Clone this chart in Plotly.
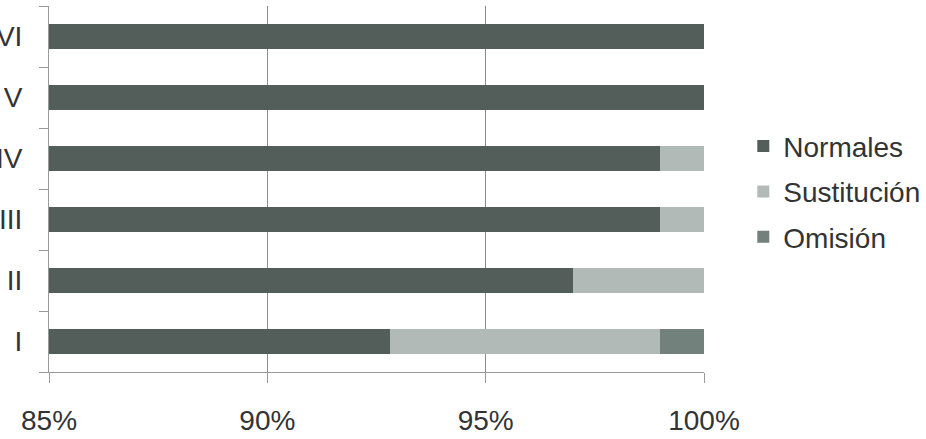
import plotly.graph_objects as go

categories = ["I", "II", "III", "IV", "V", "VI"]
normales = [92.8, 97.0, 99.0, 99.0, 100.0, 100.0]
sustitucion = [6.2, 3.0, 1.0, 1.0, 0.0, 0.0]
omision = [1.0, 0.0, 0.0, 0.0, 0.0, 0.0]
x_ticks = [85, 90, 95, 100]
x_tick_labels = [f"{v}%" for v in x_ticks]

colors = {"Normales": "#535d5a", "Sustitución": "#b1bab7", "Omisión": "#73817d"}
font = dict(family="Arial, Liberation Sans, sans-serif", size=28, color="#333333")

fig = go.Figure()
for name, vals in [("Normales", normales), ("Sustitución", sustitucion), ("Omisión", omision)]:
    fig.add_trace(go.Bar(
        y=categories, x=vals, name=name, orientation="h",
        marker=dict(color=colors[name], line=dict(width=0)),
        legendgroup=name,
    ))

fig.update_layout(
    barmode="stack",
    bargap=0.59,
    width=926, height=439,
    margin=dict(l=49, r=222, t=6, b=67, autoexpand=False),
    plot_bgcolor="white", paper_bgcolor="white",
    font=font,
    showlegend=True,
    legend=dict(
        x=1.06, xanchor="left", y=0.685, yanchor="top",
        traceorder="grouped", tracegroupgap=6,
        font=font,
        bgcolor="rgba(0,0,0,0)",
    ),
    xaxis=dict(
        range=[85, 100], tickvals=x_ticks, ticktext=x_tick_labels,
        showgrid=True, gridcolor="#8c8c8c", gridwidth=1,
        showline=True, linecolor="#999999", linewidth=1,
        ticks="outside", ticklen=10, tickcolor="#999999",
        ticklabelstandoff=13, zeroline=False, automargin=False,
    ),
    yaxis=dict(
        categoryorder="array", categoryarray=categories,
        showline=True, linecolor="#999999", linewidth=1,
        ticks="outside", ticklen=9, tickcolor="#999999",
        tickson="boundaries", showgrid=False,
        ticklabelstandoff=20, automargin=False,
    ),
)

fig.write_html("out.html")
